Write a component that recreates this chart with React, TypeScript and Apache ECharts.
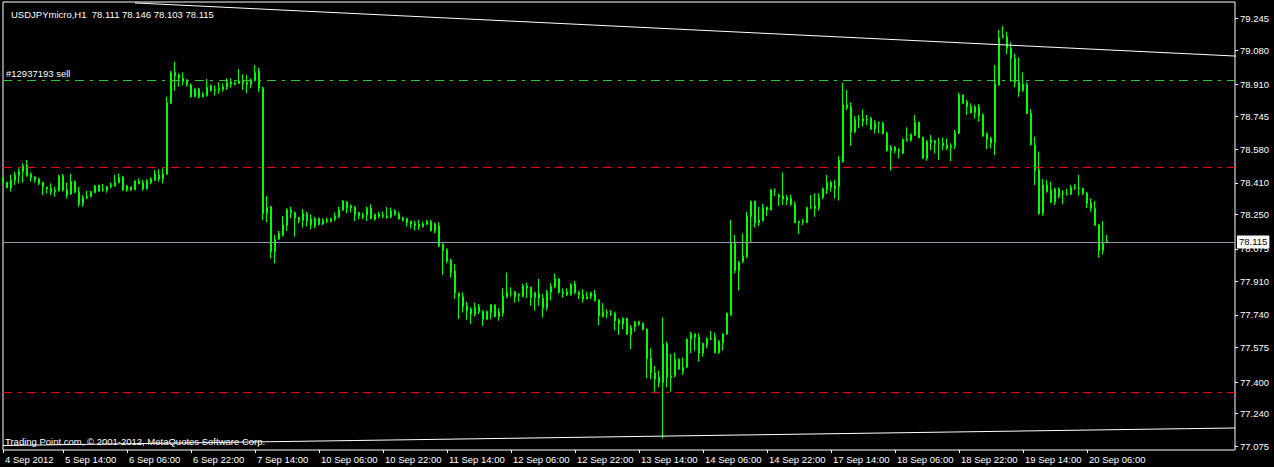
import React, { useEffect, useRef } from "react";
import * as echarts from "echarts";

const symbolName = "USDJPYmicro,H1";
const orderLabel = "#12937193 sell";
const copyright = "Trading Point.com, © 2001-2012, MetaQuotes Software Corp.";

const timeLabels = [
  "4 Sep 2012", "5 Sep 14:00", "6 Sep 06:00", "6 Sep 22:00", "7 Sep 14:00",
  "10 Sep 06:00", "10 Sep 22:00", "11 Sep 14:00", "12 Sep 06:00", "12 Sep 22:00",
  "13 Sep 14:00", "14 Sep 06:00", "14 Sep 22:00", "17 Sep 14:00", "18 Sep 06:00",
  "18 Sep 22:00", "19 Sep 14:00", "20 Sep 06:00",
];
const timeLabelBars = [0, 15, 31, 47, 63, 79, 95, 111, 127, 143, 159, 175, 191, 207, 223, 239, 255, 271];
const totalSlots = 309;

const yTicks = [79.245, 79.08, 78.91, 78.745, 78.58, 78.41, 78.25, 78.075, 77.91, 77.74, 77.575, 77.4, 77.24, 77.075];

const orderLevel = 78.931;
const stopLevels = [78.49, 77.348];
const bidPrice = 78.115;
const trendTop = [[32.5, 79.322], [317.75, 79.043]];
const trendBottom = [[0, 77.078], [308, 77.167]];

const open = [
  78.438, 78.412, 78.385, 78.421, 78.446, 78.466, 78.500, 78.455, 78.439, 78.429,
  78.412, 78.389, 78.382, 78.365, 78.370, 78.444, 78.373, 78.353, 78.417, 78.365,
  78.304, 78.340, 78.340, 78.360, 78.397, 78.377, 78.373, 78.390, 78.394, 78.411,
  78.438, 78.374, 78.374, 78.374, 78.419, 78.409, 78.380, 78.411, 78.424, 78.429,
  78.429, 78.453, 78.813, 78.970, 78.957, 78.940, 78.926, 78.906, 78.847, 78.886,
  78.847, 78.852, 78.901, 78.877, 78.879, 78.882, 78.894, 78.909, 78.909, 78.914,
  78.913, 78.918, 78.909, 78.928, 78.977, 78.889, 78.255, 78.289, 78.061, 78.125,
  78.145, 78.193, 78.272, 78.260, 78.218, 78.218, 78.250, 78.227, 78.193, 78.230,
  78.201, 78.213, 78.213, 78.225, 78.238, 78.271, 78.311, 78.293, 78.247, 78.259,
  78.247, 78.247, 78.281, 78.225, 78.240, 78.245, 78.237, 78.237, 78.267, 78.252,
  78.233, 78.228, 78.215, 78.203, 78.201, 78.188, 78.200, 78.213, 78.166, 78.191,
  78.098, 78.070, 78.017, 77.963, 77.850, 77.833, 77.786, 77.770, 77.745, 77.782,
  77.718, 77.718, 77.752, 77.791, 77.732, 77.748, 77.833, 77.853, 77.858, 77.845,
  77.833, 77.877, 77.880, 77.828, 77.850, 77.825, 77.777, 77.855, 77.884, 77.923,
  77.857, 77.858, 77.843, 77.897, 77.853, 77.842, 77.821, 77.833, 77.847, 77.816,
  77.732, 77.752, 77.747, 77.748, 77.694, 77.694, 77.723, 77.639, 77.681, 77.694,
  77.698, 77.667, 77.520, 77.444, 77.424, 77.397, 77.593, 77.422, 77.432, 77.515,
  77.453, 77.475, 77.617, 77.644, 77.627, 77.546, 77.588, 77.618, 77.627, 77.549,
  77.600, 77.642, 77.740, 78.104, 77.965, 78.011, 78.036, 78.239, 78.316, 78.208,
  78.218, 78.286, 78.272, 78.374, 78.337, 78.328, 78.335, 78.332, 78.301, 78.208,
  78.210, 78.208, 78.281, 78.279, 78.286, 78.336, 78.374, 78.412, 78.380, 78.390,
  78.517, 78.805, 78.793, 78.669, 78.729, 78.720, 78.732, 78.737, 78.683, 78.712,
  78.712, 78.661, 78.573, 78.590, 78.576, 78.559, 78.624, 78.627, 78.652, 78.717,
  78.640, 78.534, 78.613, 78.610, 78.610, 78.598, 78.602, 78.588, 78.598, 78.661,
  78.855, 78.821, 78.794, 78.766, 78.794, 78.754, 78.657, 78.635, 78.615, 78.906,
  79.149, 79.151, 79.092, 79.041, 78.919, 78.877, 78.909, 78.762, 78.602, 78.475,
  78.255, 78.399, 78.373, 78.311, 78.379, 78.357, 78.355, 78.352, 78.385, 78.384,
  78.382, 78.357, 78.306, 78.281, 78.196, 78.066, 78.111,
];
const high = [
  78.441, 78.416, 78.450, 78.466, 78.483, 78.509, 78.526, 78.463, 78.444, 78.436,
  78.416, 78.389, 78.407, 78.390, 78.450, 78.455, 78.411, 78.455, 78.421, 78.390,
  78.348, 78.370, 78.370, 78.399, 78.401, 78.404, 78.394, 78.412, 78.450, 78.458,
  78.445, 78.399, 78.390, 78.423, 78.433, 78.424, 78.428, 78.438, 78.475, 78.478,
  78.483, 78.847, 78.977, 79.024, 78.965, 78.970, 78.936, 78.914, 78.892, 78.892,
  78.869, 78.936, 78.909, 78.903, 78.919, 78.914, 78.940, 78.940, 78.923, 78.987,
  78.960, 78.957, 78.940, 79.007, 78.994, 78.898, 78.343, 78.292, 78.145, 78.166,
  78.242, 78.281, 78.289, 78.264, 78.238, 78.277, 78.264, 78.250, 78.238, 78.233,
  78.230, 78.233, 78.233, 78.260, 78.289, 78.323, 78.318, 78.301, 78.294, 78.264,
  78.260, 78.289, 78.301, 78.255, 78.264, 78.264, 78.287, 78.284, 78.276, 78.264,
  78.238, 78.233, 78.218, 78.218, 78.222, 78.213, 78.222, 78.222, 78.208, 78.211,
  78.103, 78.078, 78.026, 77.999, 77.853, 77.855, 77.808, 77.779, 77.802, 77.796,
  77.765, 77.762, 77.796, 77.794, 77.774, 77.875, 77.955, 77.880, 77.862, 77.850,
  77.897, 77.904, 77.884, 77.858, 77.923, 77.847, 77.867, 77.901, 77.951, 77.926,
  77.875, 77.875, 77.901, 77.913, 77.862, 77.870, 77.858, 77.858, 77.867, 77.820,
  77.799, 77.769, 77.765, 77.757, 77.723, 77.728, 77.726, 77.689, 77.710, 77.711,
  77.701, 77.672, 77.571, 77.481, 77.458, 77.728, 77.605, 77.542, 77.549, 77.520,
  77.525, 77.622, 77.655, 77.647, 77.647, 77.600, 77.627, 77.659, 77.651, 77.613,
  77.647, 77.752, 78.222, 78.146, 78.014, 78.154, 78.264, 78.320, 78.320, 78.289,
  78.303, 78.289, 78.379, 78.382, 78.354, 78.462, 78.349, 78.349, 78.315, 78.218,
  78.227, 78.289, 78.348, 78.357, 78.357, 78.387, 78.450, 78.421, 78.424, 78.546,
  78.918, 78.881, 78.818, 78.749, 78.754, 78.783, 78.754, 78.745, 78.728, 78.720,
  78.720, 78.669, 78.602, 78.597, 78.585, 78.636, 78.691, 78.661, 78.754, 78.720,
  78.644, 78.627, 78.652, 78.627, 78.639, 78.640, 78.635, 78.610, 78.678, 78.867,
  78.858, 78.830, 78.813, 78.804, 78.809, 78.762, 78.666, 78.644, 79.007, 79.185,
  79.205, 79.176, 79.122, 79.066, 79.046, 78.970, 78.919, 78.784, 78.644, 78.568,
  78.429, 78.424, 78.416, 78.385, 78.387, 78.373, 78.379, 78.399, 78.404, 78.450,
  78.385, 78.365, 78.331, 78.318, 78.201, 78.216, 78.146,
];
const low = [
  78.407, 78.382, 78.365, 78.399, 78.407, 78.411, 78.441, 78.416, 78.411, 78.399,
  78.348, 78.357, 78.348, 78.340, 78.365, 78.365, 78.331, 78.348, 78.357, 78.289,
  78.289, 78.326, 78.336, 78.357, 78.363, 78.365, 78.360, 78.382, 78.390, 78.407,
  78.370, 78.365, 78.369, 78.374, 78.402, 78.370, 78.375, 78.402, 78.419, 78.416,
  78.407, 78.450, 78.808, 78.876, 78.898, 78.906, 78.898, 78.842, 78.843, 78.837,
  78.842, 78.847, 78.872, 78.852, 78.862, 78.872, 78.881, 78.892, 78.903, 78.911,
  78.881, 78.864, 78.889, 78.923, 78.872, 78.221, 78.210, 78.027, 78.002, 78.120,
  78.137, 78.166, 78.230, 78.137, 78.205, 78.183, 78.188, 78.174, 78.179, 78.193,
  78.196, 78.205, 78.210, 78.216, 78.230, 78.267, 78.255, 78.260, 78.216, 78.225,
  78.225, 78.216, 78.225, 78.218, 78.230, 78.230, 78.227, 78.230, 78.243, 78.223,
  78.213, 78.188, 78.179, 78.168, 78.171, 78.183, 78.196, 78.162, 78.154, 78.083,
  77.943, 78.002, 77.929, 77.821, 77.720, 77.753, 77.715, 77.694, 77.732, 77.745,
  77.684, 77.715, 77.718, 77.728, 77.711, 77.732, 77.824, 77.833, 77.803, 77.808,
  77.830, 77.825, 77.786, 77.762, 77.787, 77.727, 77.762, 77.813, 77.875, 77.847,
  77.828, 77.836, 77.838, 77.845, 77.820, 77.803, 77.820, 77.820, 77.808, 77.689,
  77.728, 77.723, 77.735, 77.661, 77.639, 77.667, 77.639, 77.568, 77.655, 77.684,
  77.661, 77.419, 77.414, 77.351, 77.373, 77.115, 77.373, 77.351, 77.424, 77.461,
  77.436, 77.470, 77.546, 77.559, 77.503, 77.529, 77.571, 77.613, 77.546, 77.541,
  77.559, 77.639, 77.735, 77.951, 77.864, 78.002, 78.026, 78.107, 78.183, 78.191,
  78.213, 78.242, 78.270, 78.343, 78.293, 78.298, 78.298, 78.294, 78.205, 78.151,
  78.196, 78.205, 78.277, 78.238, 78.269, 78.326, 78.353, 78.365, 78.331, 78.320,
  78.512, 78.779, 78.597, 78.661, 78.686, 78.695, 78.703, 78.678, 78.661, 78.661,
  78.656, 78.568, 78.472, 78.559, 78.534, 78.556, 78.619, 78.619, 78.647, 78.635,
  78.531, 78.522, 78.576, 78.559, 78.526, 78.576, 78.576, 78.520, 78.581, 78.657,
  78.809, 78.754, 78.762, 78.737, 78.720, 78.644, 78.580, 78.585, 78.551, 78.902,
  79.142, 79.063, 78.923, 78.894, 78.847, 78.872, 78.757, 78.598, 78.399, 78.247,
  78.243, 78.360, 78.306, 78.297, 78.331, 78.301, 78.345, 78.348, 78.374, 78.345,
  78.348, 78.281, 78.264, 78.191, 78.030, 78.047, 78.103,
];
const close = [
  78.411, 78.385, 78.424, 78.450, 78.468, 78.495, 78.446, 78.436, 78.426, 78.407,
  78.390, 78.380, 78.365, 78.373, 78.444, 78.373, 78.348, 78.417, 78.362, 78.304,
  78.336, 78.336, 78.363, 78.394, 78.368, 78.373, 78.390, 78.399, 78.413, 78.438,
  78.374, 78.394, 78.390, 78.419, 78.406, 78.379, 78.421, 78.429, 78.455, 78.450,
  78.455, 78.816, 78.970, 78.953, 78.940, 78.923, 78.909, 78.847, 78.884, 78.847,
  78.859, 78.894, 78.879, 78.884, 78.889, 78.897, 78.919, 78.923, 78.916, 78.926,
  78.928, 78.908, 78.931, 78.970, 78.889, 78.255, 78.286, 78.061, 78.123, 78.154,
  78.196, 78.272, 78.260, 78.233, 78.233, 78.255, 78.218, 78.196, 78.227, 78.200,
  78.220, 78.222, 78.228, 78.242, 78.272, 78.318, 78.281, 78.284, 78.286, 78.243,
  78.237, 78.281, 78.230, 78.250, 78.252, 78.240, 78.242, 78.267, 78.250, 78.227,
  78.222, 78.208, 78.201, 78.195, 78.188, 78.201, 78.215, 78.168, 78.201, 78.091,
  78.066, 78.014, 77.955, 77.853, 77.833, 77.782, 77.762, 77.745, 77.779, 77.757,
  77.757, 77.757, 77.791, 77.732, 77.755, 77.836, 77.855, 77.857, 77.833, 77.840,
  77.887, 77.887, 77.828, 77.853, 77.825, 77.777, 77.855, 77.884, 77.923, 77.855,
  77.850, 77.843, 77.892, 77.853, 77.842, 77.821, 77.833, 77.853, 77.813, 77.737,
  77.757, 77.749, 77.745, 77.711, 77.715, 77.723, 77.642, 77.677, 77.703, 77.706,
  77.667, 77.517, 77.448, 77.415, 77.397, 77.593, 77.422, 77.432, 77.515, 77.466,
  77.475, 77.617, 77.644, 77.627, 77.546, 77.596, 77.618, 77.622, 77.549, 77.605,
  77.644, 77.749, 78.104, 77.965, 78.007, 78.039, 78.242, 78.316, 78.208, 78.222,
  78.286, 78.272, 78.374, 78.372, 78.349, 78.343, 78.323, 78.301, 78.208, 78.215,
  78.215, 78.284, 78.284, 78.293, 78.336, 78.379, 78.412, 78.387, 78.394, 78.526,
  78.805, 78.791, 78.669, 78.732, 78.732, 78.737, 78.727, 78.683, 78.712, 78.717,
  78.661, 78.573, 78.590, 78.573, 78.573, 78.630, 78.630, 78.656, 78.717, 78.639,
  78.534, 78.619, 78.627, 78.622, 78.611, 78.613, 78.585, 78.597, 78.664, 78.855,
  78.813, 78.796, 78.766, 78.794, 78.750, 78.647, 78.632, 78.613, 78.914, 79.147,
  79.153, 79.092, 79.041, 78.919, 78.872, 78.909, 78.762, 78.605, 78.471, 78.255,
  78.399, 78.365, 78.311, 78.379, 78.345, 78.355, 78.358, 78.387, 78.390, 78.382,
  78.357, 78.306, 78.281, 78.196, 78.066, 78.103, 78.115,
];

const FONT = "Liberation Sans, Arial, sans-serif";
const fmt = (v: number) => v.toFixed(3);

export default function App() {
  const ref = useRef<HTMLDivElement>(null);

  useEffect(() => {
    if (!ref.current) return;
    const chart = echarts.init(ref.current, undefined, { renderer: "svg" });

    const categories: string[] = [];
    for (let i = 0; i < totalSlots; i++) {
      const k = timeLabelBars.indexOf(i);
      categories.push(k >= 0 ? timeLabels[k] : "");
    }
    const isLabelBar = (index: number) => timeLabelBars.indexOf(index) >= 0;
    const candles = open.map((o, i) => [o, close[i], low[i], high[i]]);
    const last = open.length - 1;
    const header = `${symbolName}  ${fmt(open[last])} ${fmt(high[last])} ${fmt(low[last])} ${fmt(close[last])}`;
    const dashDot = [9, 6, 3, 6];

    chart.setOption({
      animation: false,
      backgroundColor: "#000000",
      title: {
        text: header,
        left: 6,
        top: 4,
        textStyle: { color: "#ffffff", fontSize: 9.5, fontWeight: "normal", fontFamily: FONT },
      },
      grid: {
        left: 3,
        right: 39,
        top: 2,
        bottom: 17,
        show: true,
        borderColor: "#ffffff",
        borderWidth: 1,
        backgroundColor: "transparent",
      },
      xAxis: {
        type: "category",
        data: categories,
        boundaryGap: false,
        axisLine: { show: false },
        axisTick: { show: true, interval: (i: number) => isLabelBar(i), length: 3, lineStyle: { color: "#ffffff" } },
        axisLabel: {
          interval: (i: number) => isLabelBar(i),
          align: "left",
          color: "#ffffff",
          fontSize: 9.5,
          fontFamily: FONT,
          margin: 4,
          padding: [0, 0, 0, 2],
        },
        splitLine: { show: false },
      },
      yAxis: {
        type: "value",
        position: "right",
        min: 77.0553,
        max: 79.3268,
        axisLine: { show: false },
        axisTick: { show: true, length: 3, lineStyle: { color: "#ffffff" }, customValues: yTicks },
        axisLabel: {
          customValues: yTicks,
          formatter: (v: number) => fmt(v),
          color: "#ffffff",
          fontSize: 9.5,
          fontFamily: FONT,
          margin: 5,
        },
        splitLine: { show: false },
      },
      graphic: [
        {
          type: "text",
          left: 5,
          top: 436,
          style: { text: copyright, fill: "#ffffff", font: `9.5px ${FONT}` },
          silent: true,
        },
      ],
      series: [
        {
          type: "candlestick",
          data: candles,
          barWidth: 2,
          itemStyle: {
            color: "#000000",
            color0: "#ffffff",
            borderColor: "#00ff00",
            borderColor0: "#00ff00",
            borderWidth: 1,
          },
          markLine: {
            silent: true,
            symbol: ["none", "none"],
            animation: false,
            data: [
              {
                yAxis: orderLevel,
                lineStyle: { color: "#32cd32", type: dashDot, width: 1 },
                label: {
                  show: true,
                  position: "insideStartTop",
                  formatter: orderLabel,
                  color: "#ffffff",
                  fontSize: 9.5,
                  fontFamily: FONT,
                  distance: [3, 2],
                },
              },
              ...stopLevels.map((lv) => ({
                yAxis: lv,
                lineStyle: { color: "#ff0000", type: dashDot, width: 1 },
                label: { show: false },
              })),
              {
                yAxis: bidPrice,
                lineStyle: { color: "#8e9aa6", type: "solid", width: 1 },
                label: {
                  show: true,
                  position: "end",
                  formatter: fmt(bidPrice),
                  color: "#000000",
                  backgroundColor: "#ffffff",
                  padding: [2, 2, 1, 2],
                  fontSize: 9.5,
                  fontFamily: FONT,
                  distance: 2,
                },
              },
            ],
          },
        },
        {
          type: "line",
          data: trendTop,
          symbol: "none",
          clip: false,
          lineStyle: { color: "#ffffff", width: 1 },
          silent: true,
        },
        {
          type: "line",
          data: trendBottom,
          symbol: "none",
          clip: false,
          lineStyle: { color: "#ffffff", width: 1 },
          silent: true,
        },
      ],
    });

    return () => chart.dispose();
  }, []);

  return (
    <div
      ref={ref}
      style={{ position: "fixed", left: 0, top: 0, width: 1274, height: 467, background: "#000" }}
    />
  );
}
